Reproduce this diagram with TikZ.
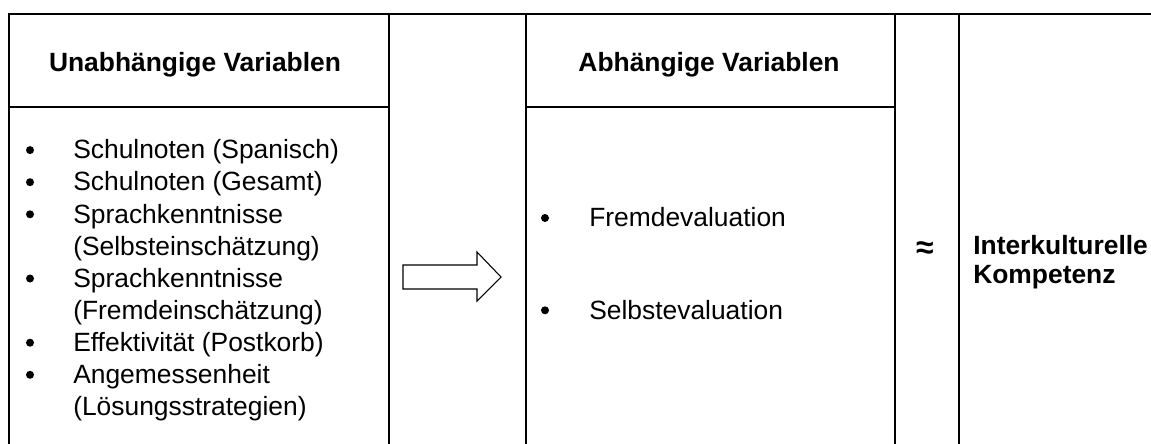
\documentclass[tikz,border=0pt]{standalone}
\usepackage{fontspec}
\setmainfont{Liberation Sans}
\begin{document}
\begin{tikzpicture}[x=0.75pt,y=-0.75pt,
  tbl/.style={line width=1.8pt,line cap=rect},
  txt/.style={anchor=base west,inner sep=0pt,font=\fontsize{19.8pt}{24pt}\selectfont},
  head/.style={anchor=base,inner sep=0pt,font=\fontsize{19.8pt}{24pt}\selectfont\bfseries},
  bul/.style={circle,fill=black,inner sep=0pt,minimum size=6pt}]
\useasboundingbox (0,0) rectangle (1151,443);
% table frame
\draw[tbl] (9,443) -- (9,14) -- (1151,14);
\foreach \cx in {389,526,895,959} \draw[tbl] (\cx,14) -- (\cx,443);
\draw[tbl] (9,107) -- (389,107);
\draw[tbl] (526,107) -- (895,107);
% column headers
\node[head] (hunab) at (195,71) {Unabhängige Variablen};
\node[head] (habh) at (709,71) {Abhängige Variablen};
% independent variables
\node[bul] (b1) at (30,150.1) {};
\node[txt] (u1) at (73,158.8) {Schulnoten (Spanisch)};
\node[bul] (b2) at (30,182.2) {};
\node[txt] (u2) at (73,190.9) {Schulnoten (Gesamt)};
\node[bul] (b3) at (30,214.3) {};
\node[txt] (u3) at (73,223.0) {Sprachkenntnisse};
\node[txt] (u4) at (73,255.1) {(Selbsteinschätzung)};
\node[bul] (b4) at (30,278.5) {};
\node[txt] (u5) at (73,287.2) {Sprachkenntnisse};
\node[txt] (u6) at (73,319.3) {(Fremdeinschätzung)};
\node[bul] (b5) at (30,342.7) {};
\node[txt] (u7) at (73,351.4) {Effektivität (Postkorb)};
\node[bul] (b6) at (30,374.8) {};
\node[txt] (u8) at (73,383.5) {Angemessenheit};
\node[txt] (u9) at (73,415.6) {(Lösungsstrategien)};
% block arrow
\draw[line width=0.8pt,fill=white,line join=miter]
  (403,265) -- (477,265) -- (477,252) -- (501,277) -- (477,301) -- (477,289) -- (403,289) -- cycle;
% dependent variables
\node[bul] (b7) at (545,218) {};
\node[txt] (a1) at (589,226.7) {Fremdevaluation};
\node[bul] (b8) at (545,310.3) {};
\node[txt] (a2) at (589,319) {Selbstevaluation};
% approximately equal
\node[inner sep=0pt,font=\fontsize{24pt}{28pt}\selectfont\bfseries] (approx) at (925,250) {≈};
% construct
\node[txt,font=\fontsize{19.8pt}{24pt}\selectfont\bfseries] (k1) at (973,254.6) {Interkulturelle};
\node[txt,font=\fontsize{19.8pt}{24pt}\selectfont\bfseries] (k2) at (973,283.6) {Kompetenz};
\end{tikzpicture}
\end{document}
